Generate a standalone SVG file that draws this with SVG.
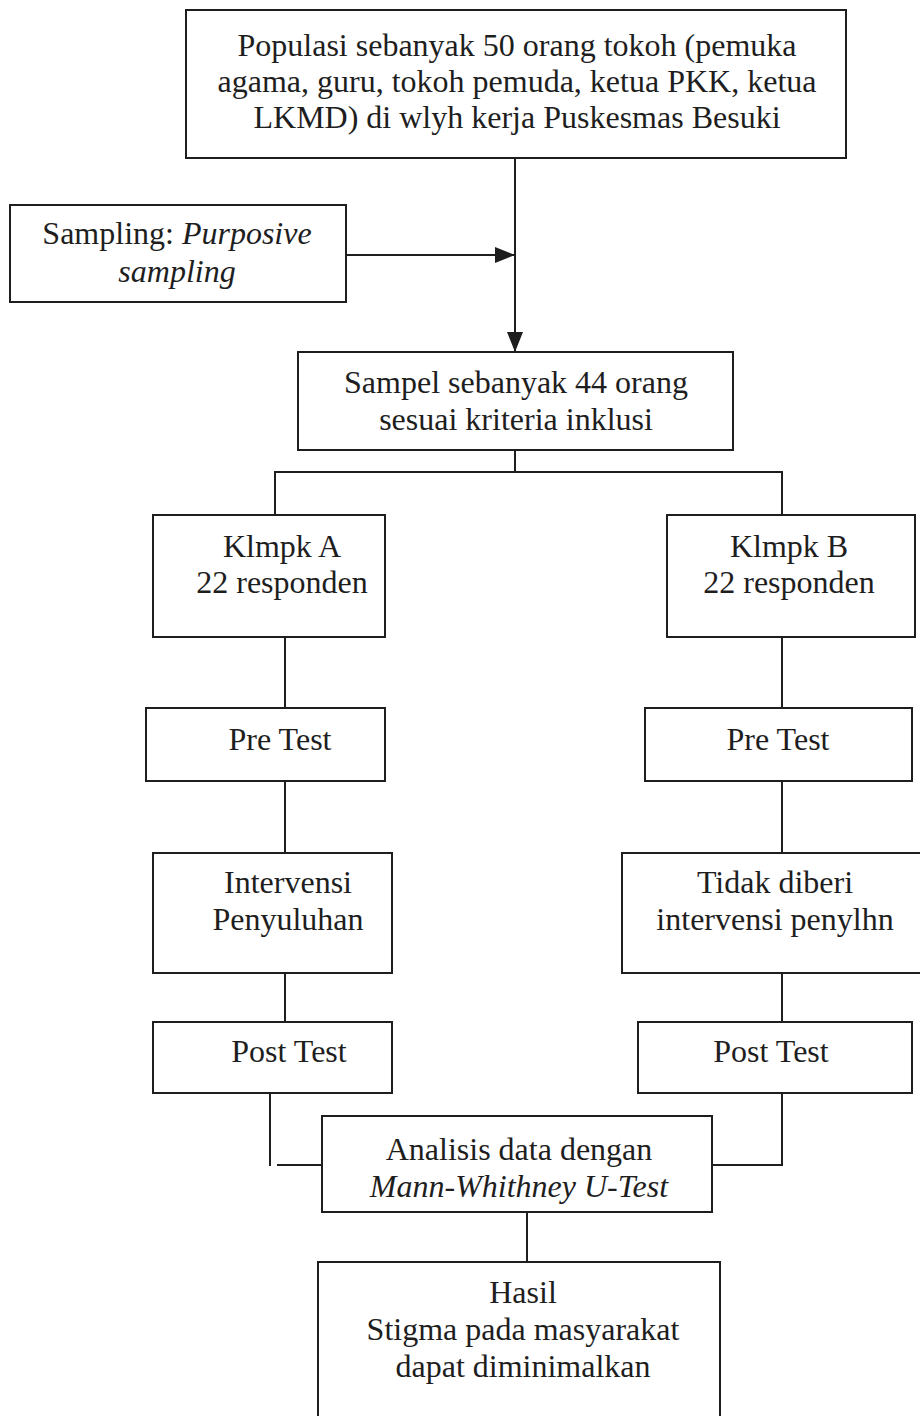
<svg xmlns="http://www.w3.org/2000/svg" width="920" height="1416" viewBox="0 0 920 1416">
<style>
.box{fill:#fff;stroke:#1e1e1e;stroke-width:2}
.ln{fill:none;stroke:#1e1e1e;stroke-width:2}
text{font-family:"Liberation Serif","Times New Roman",serif;font-size:32px;fill:#1e1e1e;text-anchor:middle}
.it{font-style:italic}
</style>
<defs>
<marker id="ah2" viewBox="0 0 20 16" refX="20" refY="8" markerWidth="20" markerHeight="16" markerUnits="userSpaceOnUse" orient="auto">
<path d="M0,0 L20,8 L0,16 Z" fill="#1e1e1e"/>
</marker>
</defs>
<rect width="920" height="1416" fill="#fff"/>
<g id="connectors">
<path class="ln" d="M515,158 V352" marker-end="url(#ah2)"/>
<path class="ln" d="M346,255 H515" marker-end="url(#ah2)"/>
<path class="ln" d="M515,450 V472 M275,515 V472 H782 V515"/>
<path class="ln" d="M285,637 V708 M782,637 V708"/>
<path class="ln" d="M285,781 V853 M782,781 V853"/>
<path class="ln" d="M285,973 V1022 M782,973 V1022"/>
<path class="ln" d="M270,1093 V1166 M277,1165 H322 M782,1093 V1165 H712"/>
<path class="ln" d="M527,1212 V1262"/>
</g>
<g id="populasi">
<rect class="box" x="186" y="10" width="660" height="148"/>
<text x="517" y="56">Populasi sebanyak 50 orang tokoh (pemuka</text>
<text x="517" y="92">agama, guru, tokoh pemuda, ketua PKK, ketua</text>
<text x="517" y="128">LKMD) di wlyh kerja Puskesmas Besuki</text>
</g>
<g id="sampling">
<rect class="box" x="10" y="205" width="336" height="97"/>
<text x="177" y="244">Sampling: <tspan class="it">Purposive</tspan></text>
<text x="177" y="282" class="it">sampling</text>
</g>
<g id="sampel">
<rect class="box" x="298" y="352" width="435" height="98"/>
<text x="516" y="393">Sampel sebanyak 44 orang</text>
<text x="516" y="430">sesuai kriteria inklusi</text>
</g>
<g id="klmpkA">
<rect class="box" x="153" y="515" width="232" height="122"/>
<text x="282" y="557">Klmpk A</text>
<text x="282" y="593">22 responden</text>
</g>
<g id="klmpkB">
<rect class="box" x="667" y="515" width="248" height="122"/>
<text x="789" y="557">Klmpk B</text>
<text x="789" y="593">22 responden</text>
</g>
<g id="pretestA">
<rect class="box" x="146" y="708" width="239" height="73"/>
<text x="280" y="750">Pre Test</text>
</g>
<g id="pretestB">
<rect class="box" x="645" y="708" width="267" height="73"/>
<text x="778" y="750">Pre Test</text>
</g>
<g id="intervensi">
<rect class="box" x="153" y="853" width="239" height="120"/>
<text x="288" y="893">Intervensi</text>
<text x="288" y="930">Penyuluhan</text>
</g>
<g id="tidak">
<rect class="box" x="622" y="853" width="300" height="120"/>
<text x="775" y="893">Tidak diberi</text>
<text x="775" y="930">intervensi penylhn</text>
</g>
<g id="posttestA">
<rect class="box" x="153" y="1022" width="239" height="71"/>
<text x="289" y="1062">Post Test</text>
</g>
<g id="posttestB">
<rect class="box" x="638" y="1022" width="274" height="71"/>
<text x="771" y="1062">Post Test</text>
</g>
<g id="analisis">
<rect class="box" x="322" y="1116" width="390" height="96"/>
<text x="519" y="1160">Analisis data dengan</text>
<text x="519" y="1197" class="it">Mann-Whithney U-Test</text>
</g>
<g id="hasil">
<rect class="box" x="318" y="1262" width="402" height="170"/>
<text x="523" y="1303">Hasil</text>
<text x="523" y="1340">Stigma pada masyarakat</text>
<text x="523" y="1377">dapat diminimalkan</text>
</g>
</svg>
